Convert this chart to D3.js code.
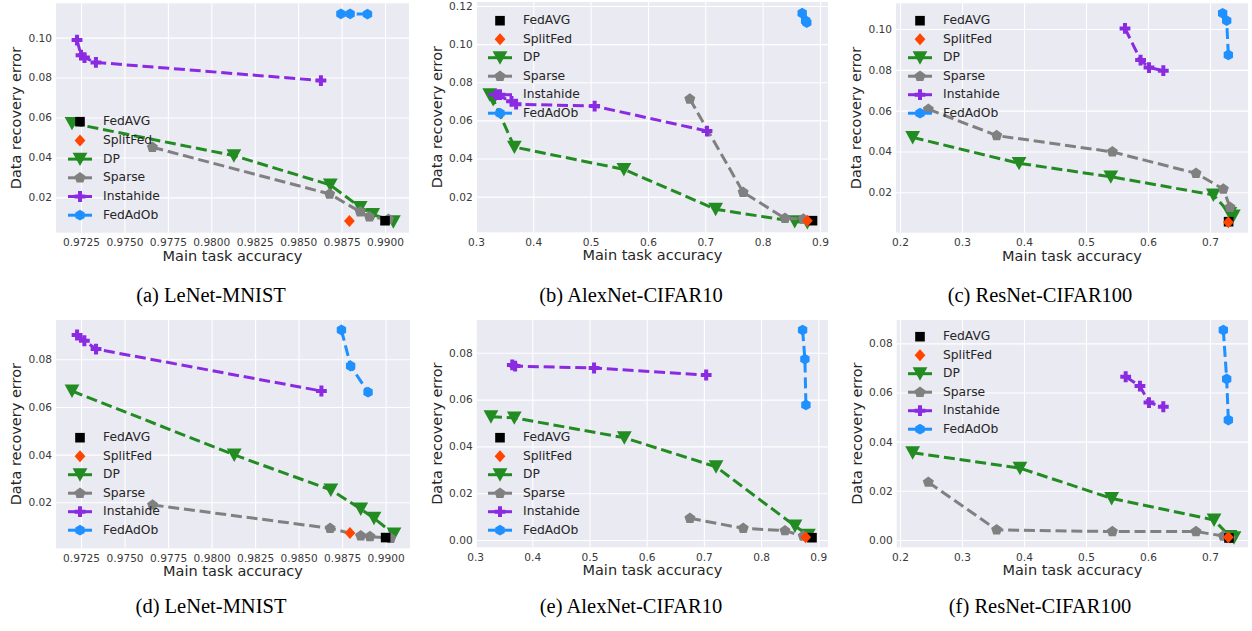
<!DOCTYPE html>
<html><head><meta charset="utf-8">
<script src="https://cdn.jsdelivr.net/npm/d3@7"></script>
<style>body{margin:0;background:#fff}</style>
</head><body><svg id="c" width="1252" height="631"></svg>
<script>
// ---------------- DATA ----------------
const methods = ["FedAVG","SplitFed","DP","Sparse","Instahide","FedAdOb"];
const captions = ["(a) LeNet-MNIST","(b) AlexNet-CIFAR10","(c) ResNet-CIFAR100",
                  "(d) LeNet-MNIST","(e) AlexNet-CIFAR10","(f) ResNet-CIFAR100"];
const xLabel = "Main task accuracy";
const yLabel = "Data recovery error";

// tick values
const lenetXTicks  = [0.9725,0.9750,0.9775,0.9800,0.9825,0.9850,0.9875,0.9900];
const alexXTicks   = [0.3,0.4,0.5,0.6,0.7,0.8,0.9];
const resXTicks    = [0.2,0.3,0.4,0.5,0.6,0.7];
const aYTicks = [0.02,0.04,0.06,0.08,0.10];
const bYTicks = [0.02,0.04,0.06,0.08,0.10,0.12];
const cYTicks = [0.02,0.04,0.06,0.08,0.10];
const dYTicks = [0.02,0.04,0.06,0.08];
const eYTicks = [0.00,0.02,0.04,0.06,0.08];
const fYTicks = [0.00,0.02,0.04,0.06,0.08];

// axis extents
const aXDom = [0.97106,0.99138], aYDom = [0.0023,0.1172];
const bXDom = [0.3013,0.914],    bYDom = [0.0013,0.1221];
const cXDom = [0.1935,0.7613],   cYDom = [0.0002,0.1126];
const dXDom = [0.97106,0.9914],  dYDom = [0.0007,0.0965];
const eXDom = [0.3028,0.917],    eYDom = [-0.0031,0.094];
const fXDom = [0.1947,0.7613],   fYDom = [-0.0030,0.0895];

// (a) LeNet-MNIST
const aFedAVG   = [[0.9900,0.0083]];
const aSplitFed = [[0.98795,0.0081]];
const aDP       = [[0.97198,0.0571],[0.9813,0.0409],[0.98685,0.0262],[0.98857,0.0150],[0.98929,0.0115],[0.99048,0.0078]];
const aSparse   = [[0.97661,0.0451],[0.98681,0.0217],[0.98857,0.0128],[0.9891,0.0103],[0.9902,0.0090]];
const aInstahide= [[0.97227,0.0988],[0.97250,0.0912],[0.97270,0.0900],[0.97336,0.0876],[0.98631,0.0785]];
const aFedAdOb  = [[0.98746,0.1119],[0.98799,0.1119],[0.98899,0.1118]];
// (b) AlexNet-CIFAR10
const bFedAVG   = [[0.887,0.0074]];
const bSplitFed = [[0.878,0.0074]];
const bDP       = [[0.324,0.0735],[0.330,0.0710],[0.367,0.0460],[0.558,0.0343],[0.718,0.0134],[0.856,0.0069],[0.878,0.0064]];
const bSparse   = [[0.673,0.0712],[0.766,0.0223],[0.839,0.0086],[0.871,0.0083]];
const bInstahide= [[0.335,0.0735],[0.362,0.0700],[0.370,0.0685],[0.507,0.0675],[0.703,0.0544]];
const bFedAdOb  = [[0.869,0.1162],[0.875,0.1123],[0.877,0.1113]];
// (c) ResNet-CIFAR100
const cFedAVG   = [[0.7300,0.0056]];
const cSplitFed = [[0.7296,0.0053]];
const cDP       = [[0.2204,0.0469],[0.392,0.0342],[0.540,0.0276],[0.7054,0.0187],[0.732,0.0097],[0.7376,0.0084]];
const cSparse   = [[0.2457,0.0607],[0.3559,0.0478],[0.5425,0.0398],[0.6774,0.0293],[0.7215,0.0216],[0.7323,0.0127]];
const cInstahide= [[0.5629,0.1003],[0.588,0.0848],[0.6016,0.0811],[0.6247,0.0796]];
const cFedAdOb  = [[0.7204,0.1077],[0.7269,0.1041],[0.7296,0.0873]];
// (d) LeNet-MNIST
const dFedAVG   = [[0.9900,0.0052]];
const dSplitFed = [[0.98795,0.0071]];
const dDP       = [[0.97198,0.0667],[0.9813,0.0399],[0.98685,0.0252],[0.98857,0.0172],[0.98933,0.0133],[0.99048,0.0067]];
const dSparse   = [[0.97661,0.0189],[0.98681,0.0091],[0.98857,0.0059],[0.9891,0.0056],[0.99029,0.0049]];
const dInstahide= [[0.97227,0.0902],[0.97269,0.0878],[0.97336,0.0843],[0.98631,0.0667]];
const dFedAdOb  = [[0.98746,0.0923],[0.98799,0.0772],[0.98899,0.0662]];
// (e) AlexNet-CIFAR10
const eFedAVG   = [[0.889,0.0010]];
const eSplitFed = [[0.878,0.0012]];
const eDP       = [[0.3277,0.0527],[0.3685,0.0522],[0.5609,0.0437],[0.7212,0.0313],[0.8593,0.0060],[0.8826,0.0021]];
const eSparse   = [[0.6756,0.0093],[0.7688,0.0050],[0.8417,0.0040],[0.8737,0.0017]];
const eInstahide= [[0.365,0.0748],[0.370,0.0743],[0.508,0.0735],[0.704,0.0705]];
const eFedAdOb  = [[0.8726,0.0897],[0.8766,0.0773],[0.8784,0.0577]];
// (f) ResNet-CIFAR100
const fFedAVG   = [[0.7306,0.0008]];
const fSplitFed = [[0.7296,0.0011]];
const fDP       = [[0.2204,0.0355],[0.3935,0.0292],[0.5414,0.0169],[0.7065,0.0081],[0.7323,0.0014],[0.7387,0.0009]];
const fSparse   = [[0.2457,0.0235],[0.3559,0.0041],[0.5425,0.0034],[0.6774,0.0034],[0.7215,0.0016],[0.7323,0.0007]];
const fInstahide= [[0.564,0.0664],[0.587,0.0626],[0.6016,0.0559],[0.6247,0.0542]];
const fFedAdOb  = [[0.7215,0.0854],[0.7269,0.0655],[0.7296,0.0488]];

// ---------------- LAYOUT / STYLE ----------------
const colors = {FedAVG:"#000000",SplitFed:"#FF4500",DP:"#228B22",Sparse:"#808080",Instahide:"#8A2BE2",FedAdOb:"#1E90FF"};
const boxes = [
  {l:56,  t:3.3, r:409, b:232.7},
  {l:476.7,t:2,  r:828, b:232.3},
  {l:896, t:3.3, r:1248,b:232.7},
  {l:56,  t:320, r:410, b:548.3},
  {l:476.7,t:320,r:828, b:547.3},
  {l:896.7,t:320,r:1248,b:547.3}
];
const legendPos = [
  {x:80, y:121.7, dy:18.7},
  {x:500,y:20.7, dy:18.5},
  {x:920,y:20.7, dy:18.5},
  {x:80, y:437.7, dy:18.5},
  {x:500,y:437.7, dy:18.5},
  {x:920,y:336.7, dy:18.5}
];
const captionPos = [[211,302],[631,302],[1040,302],[211,613],[631,613],[1040,613]];

const panels = [
  {xd:aXDom,yd:aYDom,xt:lenetXTicks,yt:aYTicks,xf:".4f",s:{FedAVG:aFedAVG,SplitFed:aSplitFed,DP:aDP,Sparse:aSparse,Instahide:aInstahide,FedAdOb:aFedAdOb}},
  {xd:bXDom,yd:bYDom,xt:alexXTicks,yt:bYTicks,xf:".1f",s:{FedAVG:bFedAVG,SplitFed:bSplitFed,DP:bDP,Sparse:bSparse,Instahide:bInstahide,FedAdOb:bFedAdOb}},
  {xd:cXDom,yd:cYDom,xt:resXTicks,yt:cYTicks,xf:".1f",s:{FedAVG:cFedAVG,SplitFed:cSplitFed,DP:cDP,Sparse:cSparse,Instahide:cInstahide,FedAdOb:cFedAdOb}},
  {xd:dXDom,yd:dYDom,xt:lenetXTicks,yt:dYTicks,xf:".4f",s:{FedAVG:dFedAVG,SplitFed:dSplitFed,DP:dDP,Sparse:dSparse,Instahide:dInstahide,FedAdOb:dFedAdOb}},
  {xd:eXDom,yd:eYDom,xt:alexXTicks,yt:eYTicks,xf:".1f",s:{FedAVG:eFedAVG,SplitFed:eSplitFed,DP:eDP,Sparse:eSparse,Instahide:eInstahide,FedAdOb:eFedAdOb}},
  {xd:fXDom,yd:fYDom,xt:resXTicks,yt:fYTicks,xf:".1f",s:{FedAVG:fFedAVG,SplitFed:fSplitFed,DP:fDP,Sparse:fSparse,Instahide:fInstahide,FedAdOb:fFedAdOb}}
];

function poly(pts){return "M"+pts.map(p=>p[0].toFixed(2)+","+p[1].toFixed(2)).join("L")+"Z";}
function regular(n,r,rot){const p=[];for(let k=0;k<n;k++){const a=(rot+360*k/n)*Math.PI/180;p.push([r*Math.cos(a),r*Math.sin(a)]);}return poly(p);}
const markerPath = {
  FedAVG: poly([[-4.8,-4.8],[4.8,-4.8],[4.8,4.8],[-4.8,4.8]]),
  SplitFed: poly([[0,-6],[5.4,0],[0,6],[-5.4,0]]),
  DP: poly([[-7.4,-6.4],[7.4,-6.4],[0,7]]),
  Sparse: regular(5,5.8,-90),
  Instahide: poly([[-2,-5.4],[2,-5.4],[2,-2],[5.4,-2],[5.4,2],[2,2],[2,5.4],[-2,5.4],[-2,2],[-5.4,2],[-5.4,-2],[-2,-2]]),
  FedAdOb: regular(6,5.4,-90)
};
const drawOrder = ["DP","Sparse","Instahide","FedAdOb","FedAVG","SplitFed"];

const svg = d3.select("#c");
svg.append("rect").attr("width",1252).attr("height",631).attr("fill","#fff");

panels.forEach((P,i)=>{
  const B = boxes[i];
  const x = d3.scaleLinear().domain(P.xd).range([B.l,B.r]);
  const y = d3.scaleLinear().domain(P.yd).range([B.b,B.t]);
  const g = svg.append("g");
  g.append("rect").attr("x",B.l).attr("y",B.t).attr("width",B.r-B.l).attr("height",B.b-B.t).attr("fill","#EAEAF2");
  const gx = g.append("g").attr("transform",`translate(0,${B.b})`)
    .call(d3.axisBottom(x).tickValues(P.xt).tickFormat(d3.format(P.xf)).tickSize(-(B.b-B.t)).tickPadding(6));
  const gy = g.append("g").attr("transform",`translate(${B.l},0)`)
    .call(d3.axisLeft(y).tickValues(P.yt).tickFormat(d3.format(".2f")).tickSize(-(B.r-B.l)).tickPadding(4));
  [gx,gy].forEach(a=>{
    a.select(".domain").remove();
    a.selectAll(".tick line").attr("stroke","#fff").attr("stroke-width",1.1);
    a.selectAll(".tick text").attr("fill","#3a3a3a").style("font-family","DejaVu Sans").style("font-size","10.6px");
  });
  g.append("text").attr("x",(B.l+B.r)/2).attr("y",B.b+24).attr("text-anchor","middle").attr("dominant-baseline","middle")
    .style("font-family","DejaVu Sans").style("font-size","14.5px").attr("fill","#262626").text(xLabel);
  g.append("text").attr("transform",`translate(${B.l-39},${(B.t+B.b)/2}) rotate(-90)`).attr("text-anchor","middle").attr("dominant-baseline","middle")
    .style("font-family","DejaVu Sans").style("font-size","14.5px").attr("fill","#262626").text(yLabel);

  const plot = g.append("g");
  const line = d3.line().x(d=>x(d[0])).y(d=>y(d[1]));
  drawOrder.forEach(m=>{
    const data = P.s[m];
    if(data.length>1){
      plot.append("path").attr("d",line(data)).attr("fill","none").attr("stroke",colors[m])
        .attr("stroke-width",3).attr("stroke-dasharray","11,4.8");
    }
    plot.selectAll(null).data(data).enter().append("path")
      .attr("d",markerPath[m]).attr("transform",d=>`translate(${x(d[0])},${y(d[1])})`)
      .attr("fill",colors[m]);
  });

  const L = legendPos[i];
  methods.forEach((m,k)=>{
    const yy = L.y + k*L.dy;
    if(m!=="FedAVG" && m!=="SplitFed"){
      g.append("line").attr("x1",L.x-12).attr("x2",L.x+12).attr("y1",yy).attr("y2",yy)
        .attr("stroke",colors[m]).attr("stroke-width",3);
    }
    g.append("path").attr("d",markerPath[m]).attr("transform",`translate(${L.x},${yy})`).attr("fill",colors[m]);
    g.append("text").attr("x",L.x+23).attr("y",yy).attr("dominant-baseline","middle")
      .style("font-family","DejaVu Sans").style("font-size","12.3px").attr("fill","#262626").text(m);
  });

  svg.append("text").attr("x",captionPos[i][0]).attr("y",captionPos[i][1]).attr("text-anchor","middle")
    .style("font-family","Liberation Serif").style("font-size","20.5px").attr("fill","#000").text(captions[i]);
});
</script></body></html>
